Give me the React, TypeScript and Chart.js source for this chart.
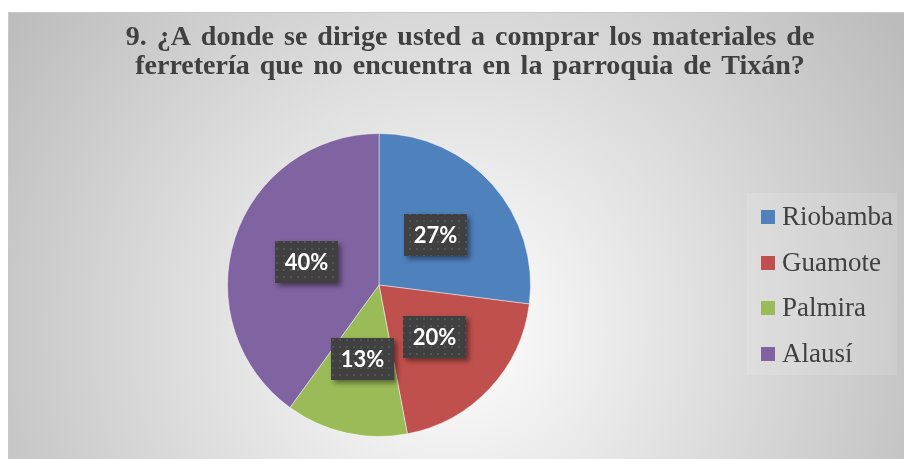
import React, { useEffect, useRef } from "react";
import { Chart, registerables } from "chart.js";
Chart.register(...registerables);

const TITLE_LINES = [
  "9. ¿A donde se dirige usted a comprar los materiales de",
  "ferretería que no encuentra en la parroquia de Tixán?",
];
const CATEGORIES = ["Riobamba", "Guamote", "Palmira", "Alausí"];
const PERCENTS = [27, 20, 13, 40];
const COLORS = ["#4F81BD", "#C0504D", "#9BBB59", "#8064A2"];

const W = 904;
const H = 459;

const backgroundPlugin = {
  id: "bgPanel",
  beforeDraw(chart: any) {
    const ctx = chart.ctx;
    ctx.save();
    ctx.fillStyle = "#ffffff";
    ctx.fillRect(0, 0, W, H);
    const g = ctx.createRadialGradient(450, 330, 0, 450, 330, 540);
    g.addColorStop(0, "#ffffff");
    g.addColorStop(1, "#bcbcbc");
    ctx.fillStyle = g;
    ctx.fillRect(8, 12, W - 8, H - 12);
    ctx.strokeStyle = "#c8c8c8";
    ctx.lineWidth = 1;
    ctx.beginPath();
    ctx.moveTo(8.5, H);
    ctx.lineTo(8.5, 12.5);
    ctx.lineTo(W, 12.5);
    ctx.stroke();
    // title
    ctx.fillStyle = "#404040";
    ctx.font = "bold 28px 'Liberation Serif', 'Times New Roman', serif";
    ctx.textAlign = "center";
    ctx.textBaseline = "alphabetic";
    (ctx as any).wordSpacing = "3px";
    ctx.fillText(TITLE_LINES[0], 470, 45);
    ctx.fillText(TITLE_LINES[1], 470, 74);
    (ctx as any).wordSpacing = "0px";
    // legend
    ctx.fillStyle = "rgba(255,255,255,0.12)";
    ctx.fillRect(747, 193, 150, 182);
    const rows = [217, 263, 308, 354];
    ctx.textAlign = "left";
    ctx.textBaseline = "middle";
    ctx.font = "27px 'Liberation Serif', 'Times New Roman', serif";
    CATEGORIES.forEach((c, i) => {
      const hidden = !chart.getDataVisibility(i);
      ctx.fillStyle = COLORS[i];
      ctx.fillRect(761, rows[i] - 7, 14, 14);
      ctx.fillStyle = hidden ? "#999" : "#404040";
      ctx.fillText(c, 782, rows[i] + 1);
    });
    ctx.restore();
  },
};

let patternCache: CanvasPattern | null = null;
function getPattern(ctx: CanvasRenderingContext2D) {
  if (patternCache) return patternCache;
  const pc = document.createElement("canvas");
  pc.width = 7;
  pc.height = 7;
  const p = pc.getContext("2d")!;
  p.fillStyle = "#404040";
  p.fillRect(0, 0, 7, 7);
  p.fillStyle = "#545454";
  p.fillRect(3, 3, 2, 2);
  patternCache = ctx.createPattern(pc, "repeat");
  return patternCache;
}

const labelPlugin = {
  id: "pctLabels",
  afterDatasetsDraw(chart: any) {
    const ctx = chart.ctx;
    const meta = chart.getDatasetMeta(0);
    meta.data.forEach((arc: any, i: number) => {
      if (!chart.getDataVisibility(i)) return;
      const pt = arc.getCenterPoint();
      const bw = 63;
      const bh = 42;
      const x = Math.round(pt.x - bw / 2);
      const y = Math.round(pt.y - bh / 2);
      ctx.save();
      ctx.shadowColor = "rgba(0,0,0,0.45)";
      ctx.shadowBlur = 5;
      ctx.shadowOffsetX = 3;
      ctx.shadowOffsetY = 3;
      ctx.fillStyle = "#404040";
      ctx.fillRect(x, y, bw, bh);
      ctx.restore();
      ctx.save();
      ctx.fillStyle = getPattern(ctx) || "#404040";
      ctx.fillRect(x, y, bw, bh);
      ctx.fillStyle = "#ffffff";
      ctx.font = "bold 22px Lato, 'Open Sans', sans-serif";
      ctx.textAlign = "center";
      ctx.textBaseline = "middle";
      ctx.fillText(PERCENTS[i] + "%", x + bw / 2, y + bh / 2 + 1);
      ctx.restore();
    });
  },
};

export default function App() {
  const ref = useRef<HTMLCanvasElement>(null);
  useEffect(() => {
    if (!ref.current) return;
    const chart = new Chart(ref.current, {
      type: "pie",
      data: {
        labels: CATEGORIES,
        datasets: [
          {
            data: PERCENTS,
            backgroundColor: COLORS,
            borderColor: "rgba(255,255,255,0.45)",
            borderWidth: 1,
          },
        ],
      },
      options: {
        responsive: false,
        animation: false,
        layout: { padding: { left: 227, right: 373, top: 133, bottom: 22 } },
        plugins: {
          legend: { display: false },
          title: { display: false },
          tooltip: { enabled: false },
        },
      },
      plugins: [backgroundPlugin, labelPlugin],
    });
    return () => chart.destroy();
  }, []);
  return (
    <div style={{ position: "absolute", left: 0, top: 0, width: W, height: H }}>
      <canvas ref={ref} width={W} height={H} style={{ display: "block" }} />
    </div>
  );
}
